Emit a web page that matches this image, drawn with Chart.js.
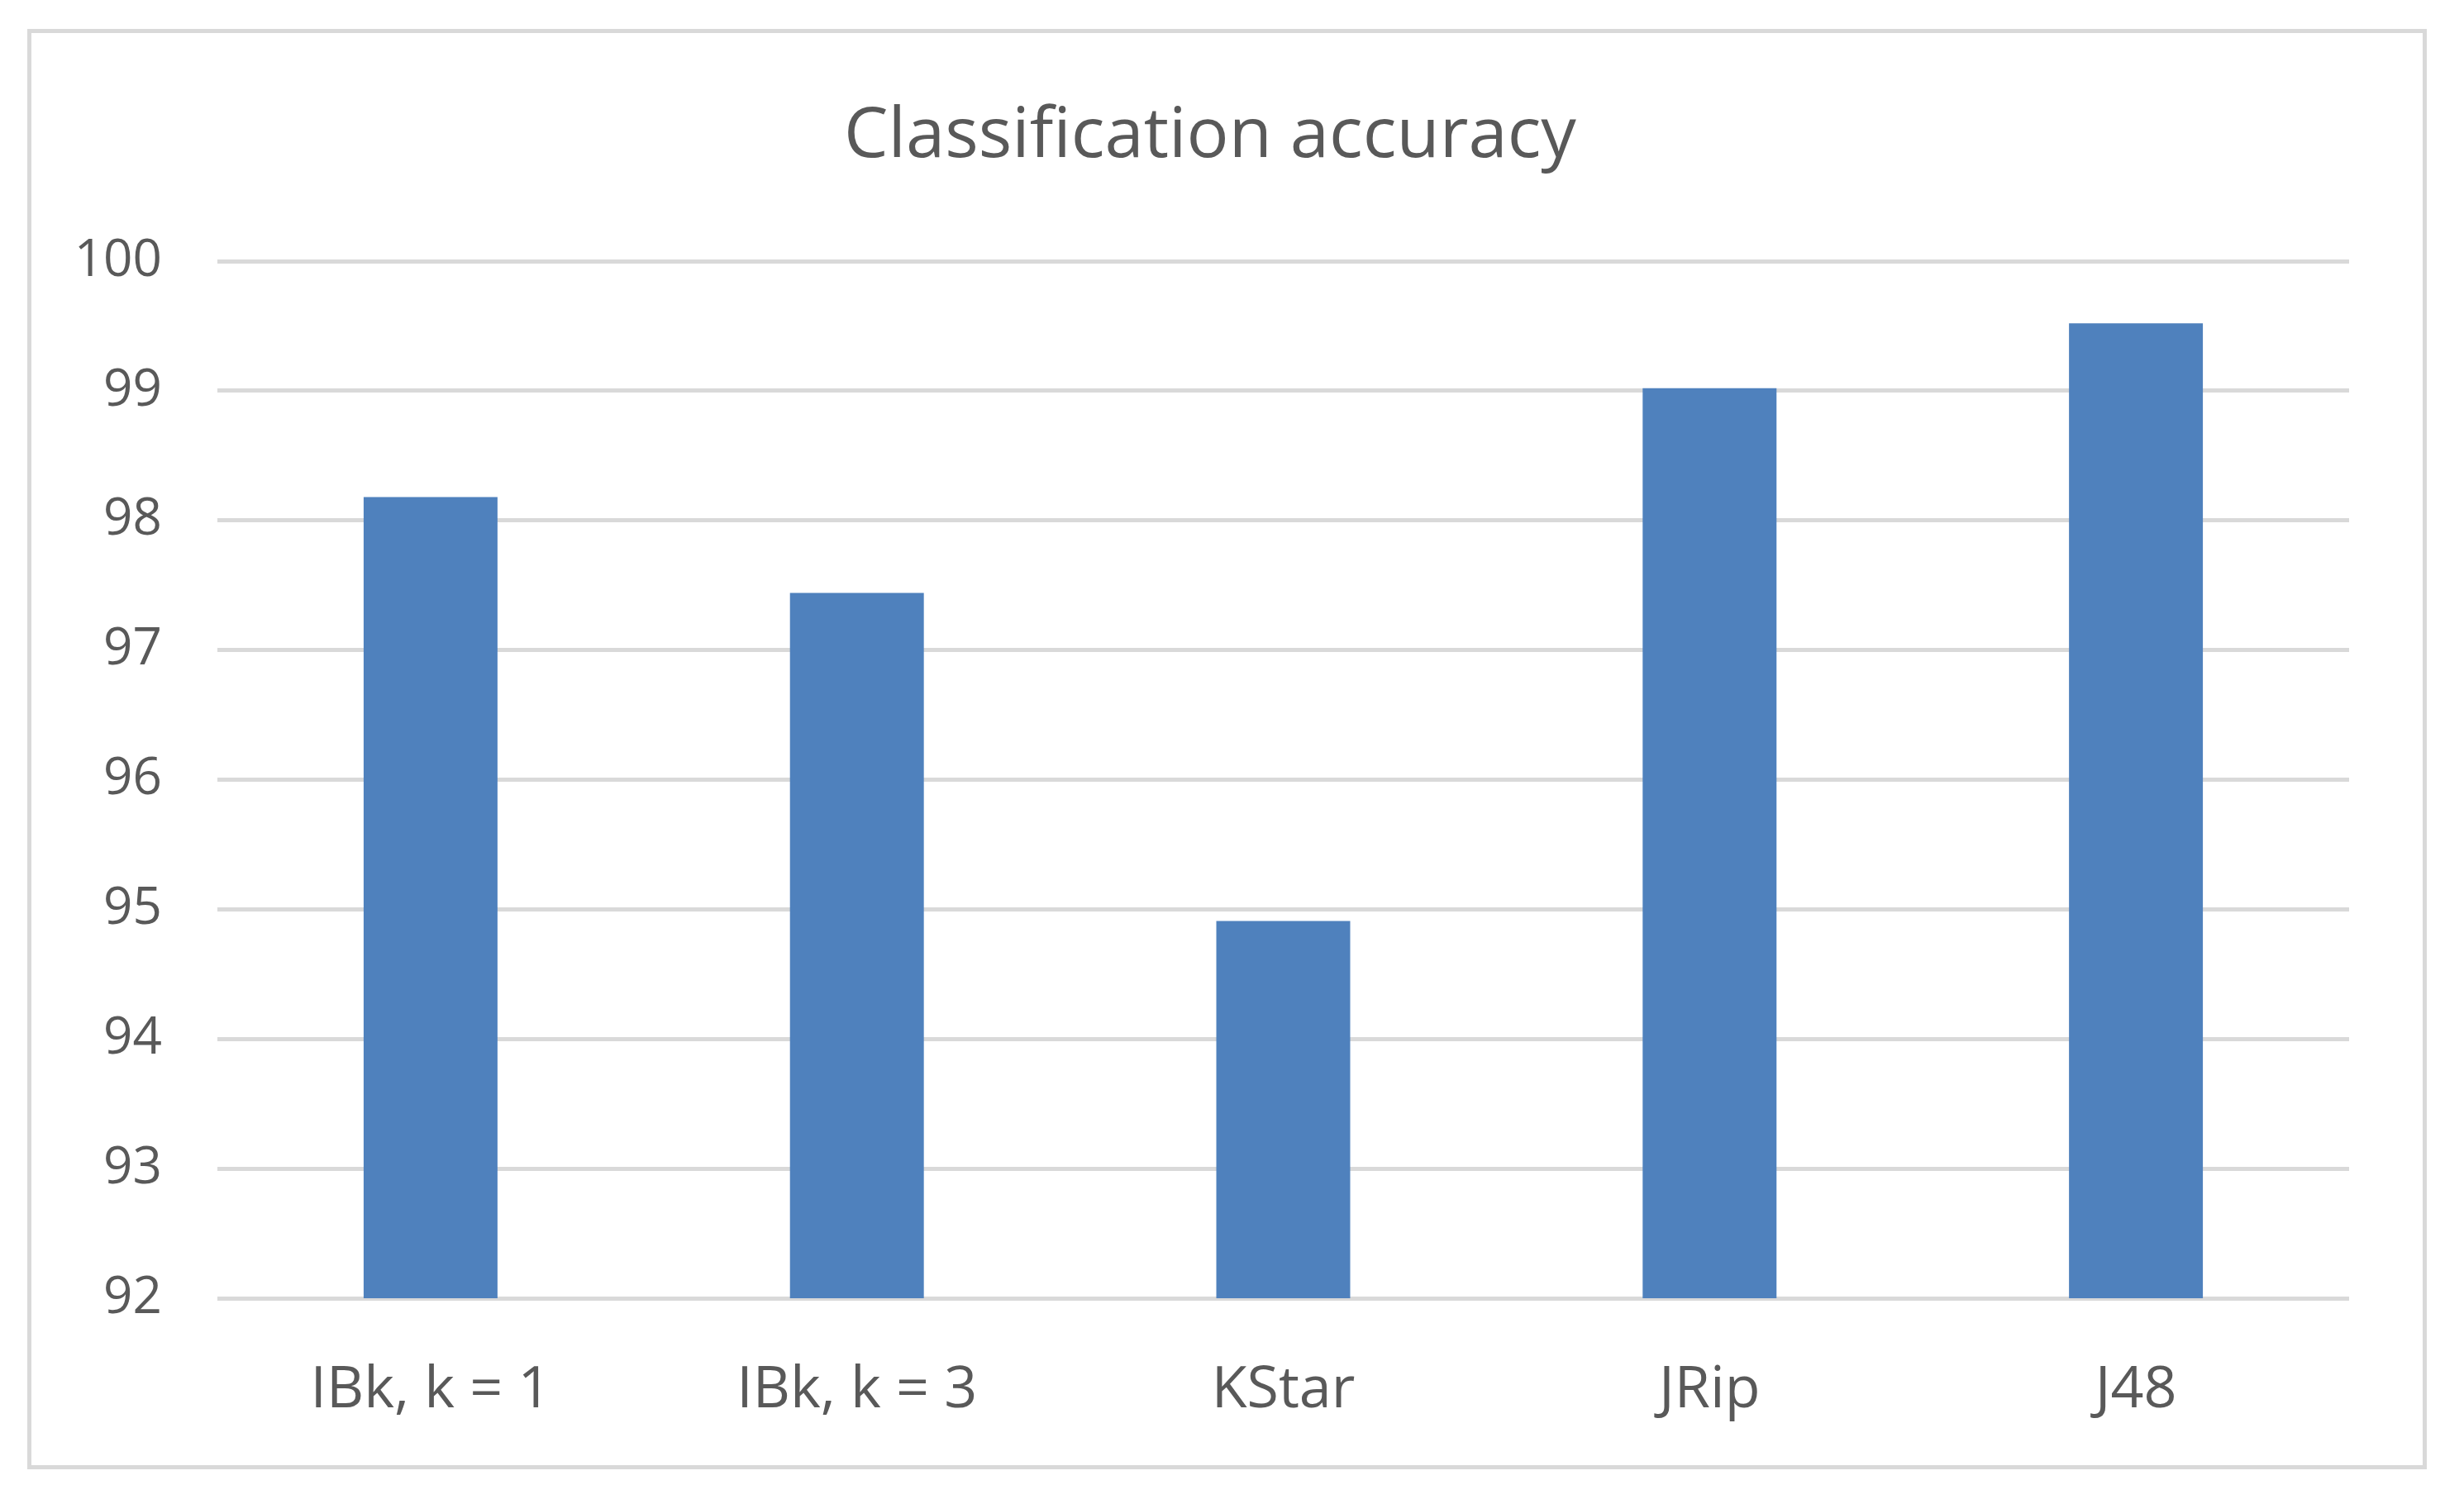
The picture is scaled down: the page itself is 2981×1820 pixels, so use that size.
<!DOCTYPE html>
<html>
<head>
<meta charset="utf-8">
<script src="https://cdn.jsdelivr.net/npm/chart.js@4/dist/chart.umd.min.js"></script>
<style>
  html, body { margin: 0; padding: 0; background: #fff; }
  #wrap { position: absolute; left: 0; top: 0; width: 2981px; height: 1820px; }
  #frame { position: absolute; left: 33px; top: 35px; width: 2893px; height: 1733px; border: 5px solid #d9d9d9; }
  canvas { position: absolute; left: 0; top: 0; }
</style>
</head>
<body>
<div id="wrap">
  <div id="frame"></div>
  <canvas id="accChart" width="2981" height="1820"></canvas>
</div>
<script>
// classifiers and their accuracy (%)
const classifiers = ["IBk, k = 1", "IBk, k = 3", "KStar", "JRip", "J48"];
const accuracy = [98.18, 97.44, 94.91, 99.02, 99.52];
const yTicks = [92, 93, 94, 95, 96, 97, 98, 99, 100];

const textColor = "#595959";
const fontFamily = "'Open Sans', sans-serif";

const ctx = document.getElementById("accChart").getContext("2d");
new Chart(ctx, {
  type: "bar",
  data: {
    labels: classifiers,
    datasets: [{
      label: "Classification accuracy",
      data: accuracy,
      backgroundColor: "#4f81bd",
      borderWidth: 0,
      categoryPercentage: 1,
      barPercentage: 0.314
    }]
  },
  options: {
    responsive: false,
    animation: false,
    // left padding pulls the title centre to the right, y labels must still fit the axis box
    layout: { padding: { left: 86, right: 139, top: 0, bottom: 0 } },
    plugins: {
      legend: { display: false },
      tooltip: { enabled: false },
      title: {
        display: true,
        text: "Classification accuracy",
        color: textColor,
        font: { family: fontFamily, size: 85, weight: "normal", lineHeight: 1.2 },
        padding: { top: 115, bottom: 99 }
      }
    },
    scales: {
      x: {
        grid: { display: false, drawTicks: false },
        border: { display: false },
        ticks: {
          color: textColor,
          font: { family: fontFamily, size: 70 },
          padding: 70,
          maxRotation: 0
        },
        afterFit: scale => { scale.height = 249; }
      },
      y: {
        min: yTicks[0],
        max: yTicks[yTicks.length - 1],
        afterBuildTicks: scale => { scale.ticks = yTicks.map(v => ({ value: v })); },
        grid: { color: "#d9d9d9", lineWidth: 5, drawTicks: false },
        border: { display: false },
        ticks: {
          color: textColor,
          font: { family: fontFamily, size: 62 },
          padding: 67
        },
        afterFit: scale => { scale.width = 177; }
      }
    }
  }
});
</script>
</body>
</html>
